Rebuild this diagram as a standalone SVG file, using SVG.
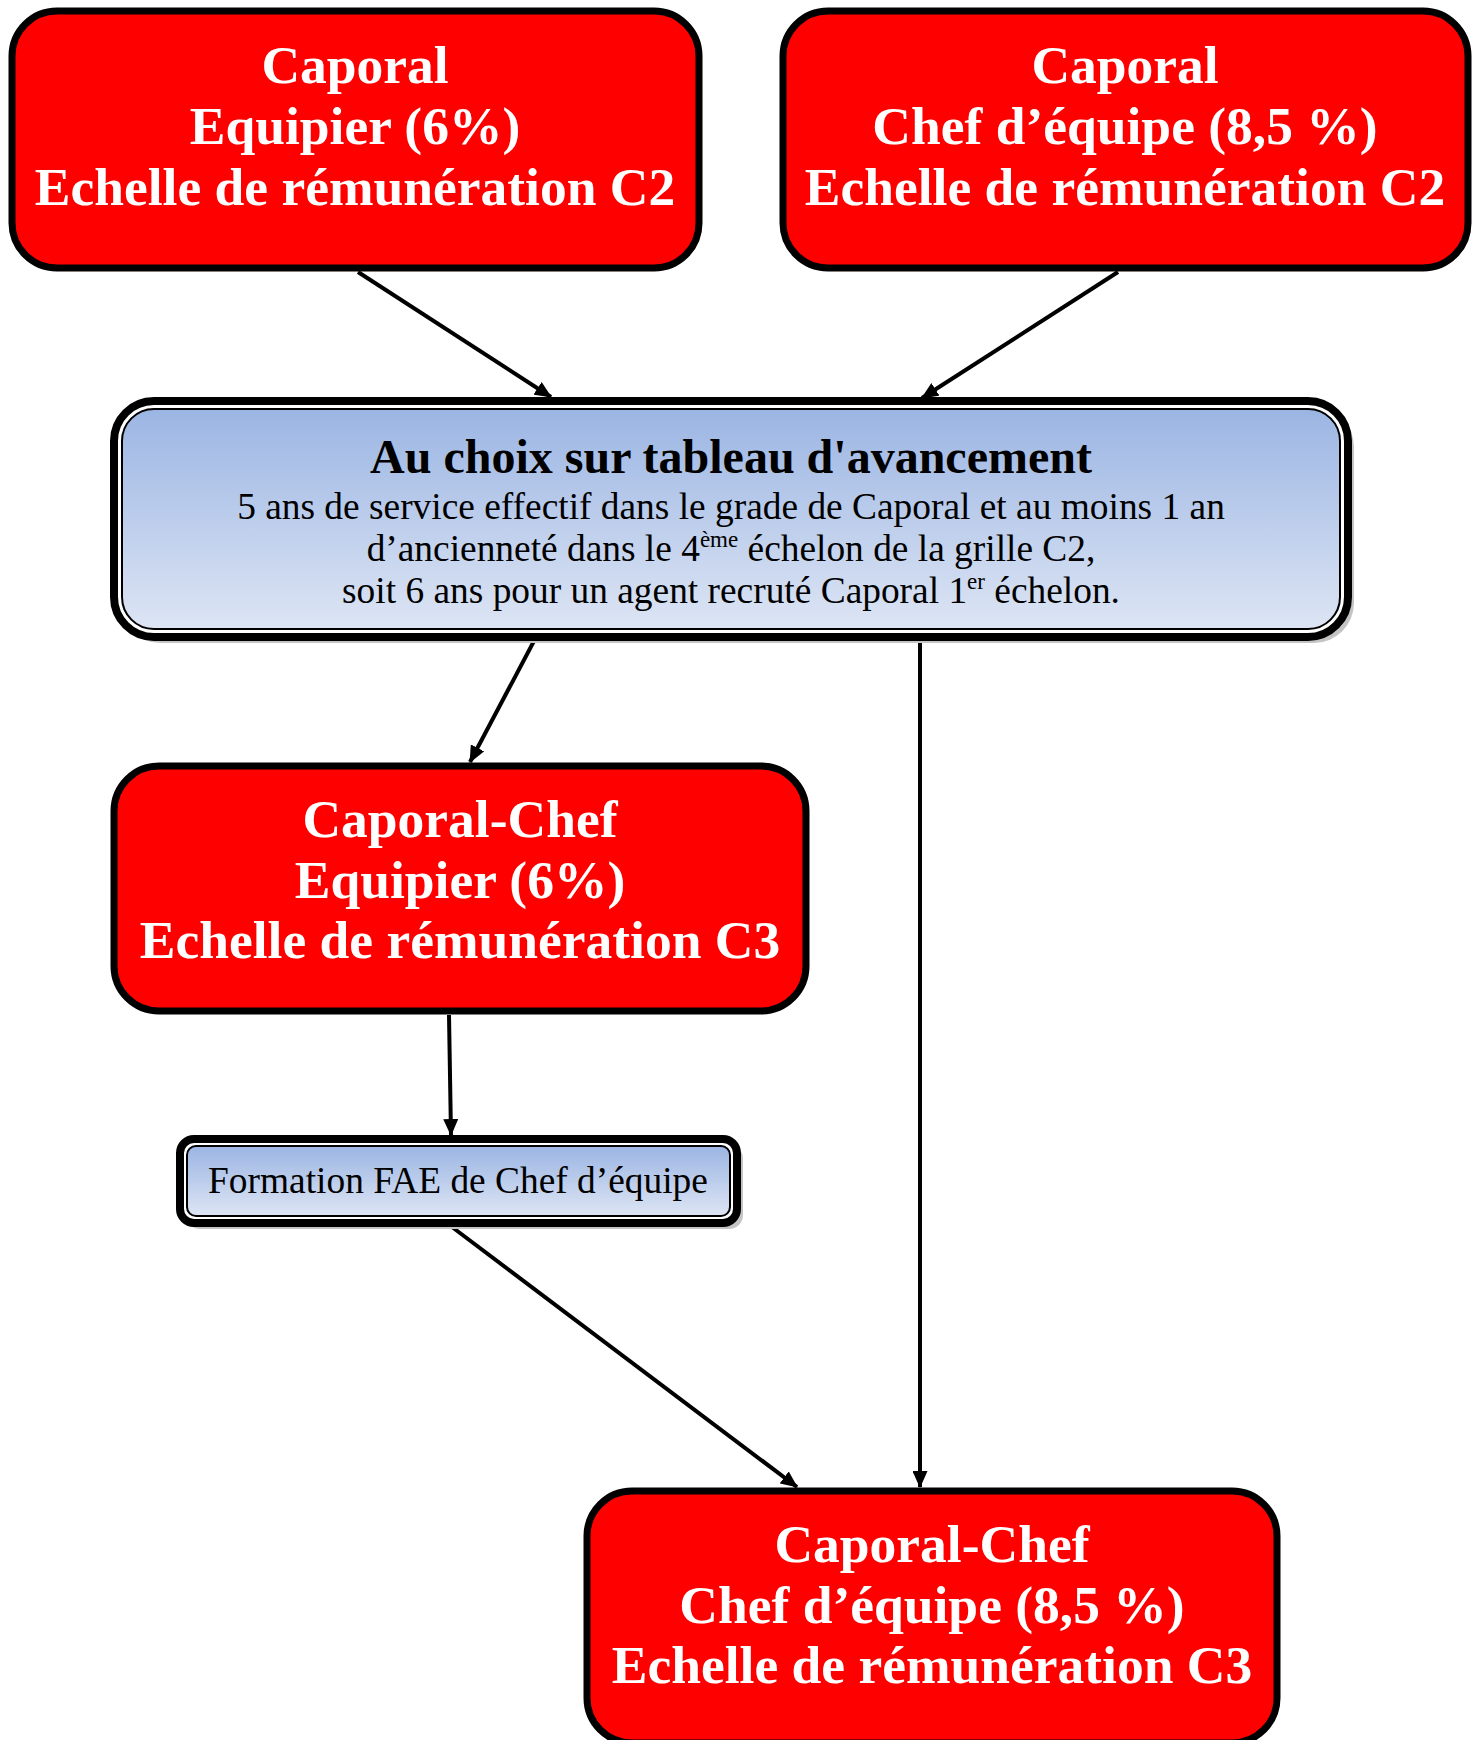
<svg xmlns="http://www.w3.org/2000/svg" width="1478" height="1740" viewBox="0 0 1478 1740">
<defs>
<linearGradient id="blueGrad" x1="0" y1="0" x2="0" y2="1">
<stop offset="0" stop-color="#9BB5E3"/>
<stop offset="1" stop-color="#DDE5F4"/>
</linearGradient>
<marker id="arrow" viewBox="0 0 17 15" refX="16" refY="7.5" markerWidth="17" markerHeight="15" markerUnits="userSpaceOnUse" orient="auto">
<path d="M0,0 L17,7.5 L0,15 z" fill="#000"/>
</marker>
</defs>
<style>
.red { fill: #FF0000; stroke: #000; stroke-width: 7; }
.outer { fill: #FFFFFF; stroke: #000; stroke-width: 8; }
.inner { fill: url(#blueGrad); stroke: #000; stroke-width: 2; }
.shadow { fill: #C4C4C4; }
.rt { font-family: "Liberation Serif", "Times New Roman", serif; font-weight: bold; font-size: 53.5px; fill: #FFFFFF; text-anchor: middle; }
.bt { font-family: "Liberation Serif", "Times New Roman", serif; font-weight: bold; font-size: 48px; fill: #000; text-anchor: middle; }
.nt { font-family: "Liberation Serif", "Times New Roman", serif; font-size: 37.4px; fill: #000; text-anchor: middle; }
.sup { font-size: 23px; }
.conn { stroke: #000; stroke-width: 4; fill: none; marker-end: url(#arrow); }
</style>
<rect width="1478" height="1740" fill="#FFFFFF"/>

<g id="connectors">
<line class="conn" x1="358" y1="272" x2="551" y2="397"/>
<line class="conn" x1="1118" y1="272" x2="922" y2="398"/>
<line class="conn" x1="534" y1="641" x2="470" y2="762"/>
<line class="conn" x1="920" y1="643" x2="920" y2="1487"/>
<line class="conn" x1="449" y1="1015" x2="451" y2="1135"/>
<line class="conn" x1="452" y1="1227" x2="797" y2="1487"/>
</g>

<g id="caporal-equipier">
<rect class="red" x="12" y="11" width="687" height="257" rx="45" ry="45"/>
<text class="rt" x="355" y="83">Caporal</text>
<text class="rt" x="355" y="144">Equipier (6%)</text>
<text class="rt" x="355" y="205">Echelle de rémunération C2</text>
</g>

<g id="caporal-chef-equipe">
<rect class="red" x="783" y="11" width="685" height="257" rx="45" ry="45"/>
<text class="rt" x="1125" y="83">Caporal</text>
<text class="rt" x="1125" y="144">Chef d’équipe (8,5 %)</text>
<text class="rt" x="1125" y="205">Echelle de rémunération C2</text>
</g>

<g id="tableau-avancement">
<rect class="shadow" x="120" y="407" width="1234" height="236" rx="40" ry="40"/>
<rect class="outer" x="114" y="401" width="1234" height="236" rx="40" ry="40"/>
<rect class="inner" x="122" y="409" width="1218" height="220" rx="32" ry="32"/>
<text class="bt" x="731" y="473">Au choix sur tableau d'avancement</text>
<text class="nt" x="731" y="519">5 ans de service effectif dans le grade de Caporal et au moins 1 an</text>
<text class="nt" x="731" y="561">d’ancienneté dans le 4<tspan class="sup" dy="-14">ème</tspan><tspan dy="14"> échelon de la grille C2,</tspan></text>
<text class="nt" x="731" y="603">soit 6 ans pour un agent recruté Caporal 1<tspan class="sup" dy="-14">er</tspan><tspan dy="14"> échelon.</tspan></text>
</g>

<g id="caporal-chef-equipier">
<rect class="red" x="114" y="766" width="692" height="245" rx="45" ry="45"/>
<text class="rt" x="460" y="837">Caporal-Chef</text>
<text class="rt" x="460" y="898">Equipier (6%)</text>
<text class="rt" x="460" y="958">Echelle de rémunération C3</text>
</g>

<g id="formation-fae">
<rect class="shadow" x="186" y="1145" width="557" height="84" rx="14" ry="14"/>
<rect class="outer" x="180" y="1139" width="557" height="84" rx="14" ry="14"/>
<rect class="inner" x="187" y="1146" width="543" height="70" rx="9" ry="9"/>
<text class="nt" x="458" y="1193">Formation FAE de Chef d’équipe</text>
</g>

<g id="caporal-chef-chef-equipe">
<rect class="red" x="587" y="1491" width="690" height="252" rx="45" ry="45"/>
<text class="rt" x="932" y="1562">Caporal-Chef</text>
<text class="rt" x="932" y="1623">Chef d’équipe (8,5 %)</text>
<text class="rt" x="932" y="1683">Echelle de rémunération C3</text>
</g>
</svg>
